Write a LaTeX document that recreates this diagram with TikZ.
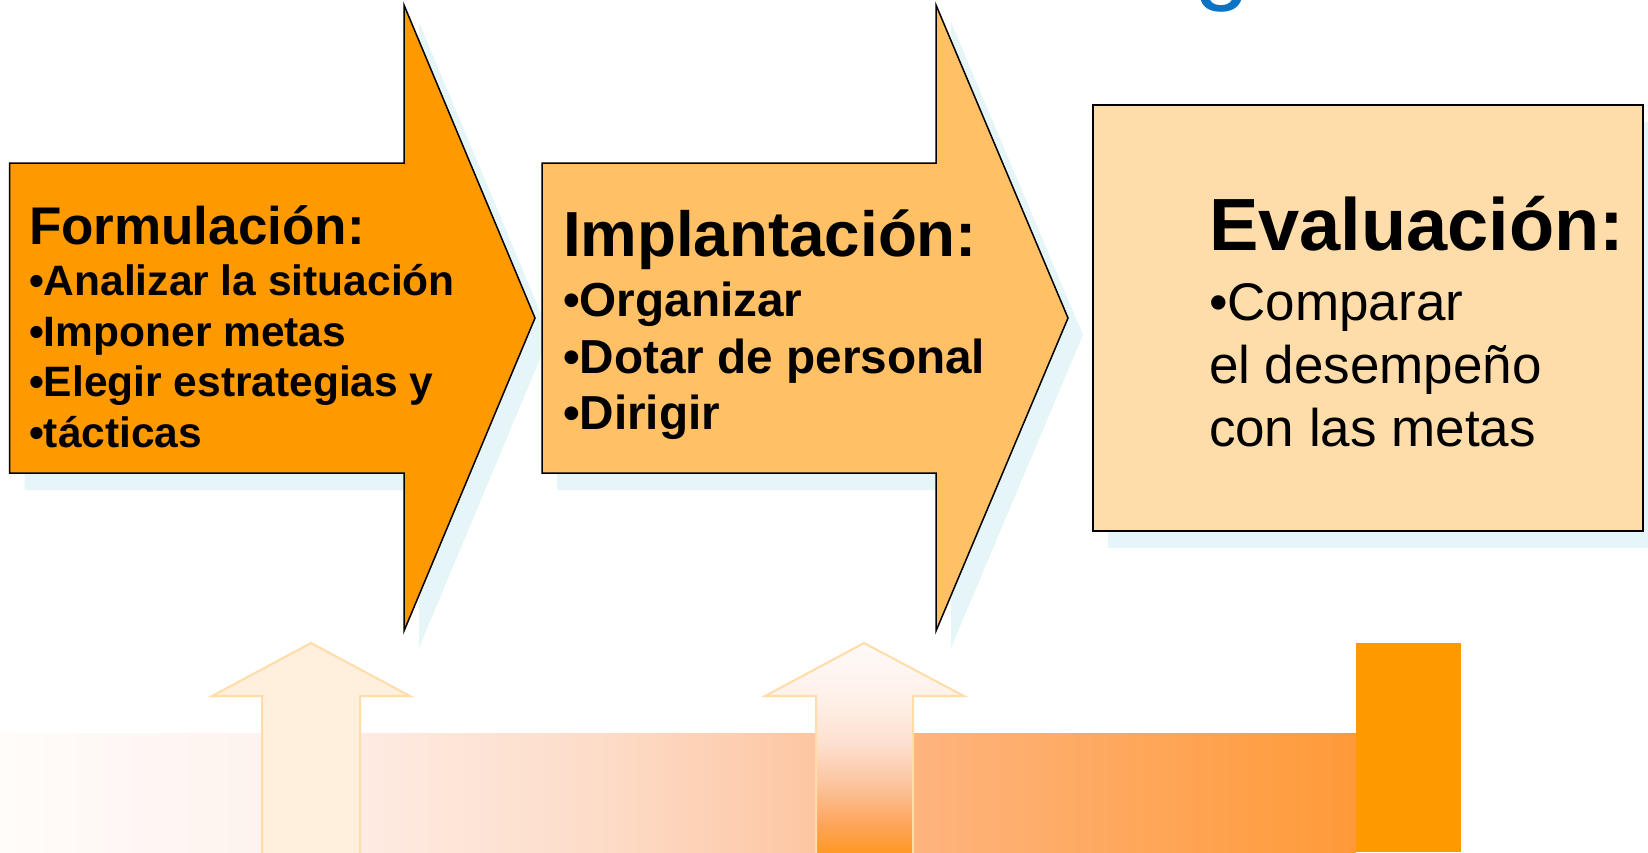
\documentclass[tikz,border=0pt]{standalone}
\usepackage{fontspec}
\setmainfont{Liberation Sans}
\definecolor{shadowc}{HTML}{E6F5F8}
\definecolor{arrA}{HTML}{FF9900}
\definecolor{arrB}{HTML}{FFC066}
\definecolor{boxC}{HTML}{FFDDAA}
\definecolor{upfill}{HTML}{FFEFDC}
\definecolor{upline}{HTML}{FFDCA8}
\definecolor{barc}{HTML}{FF9900}
\definecolor{titleblue}{HTML}{0B72C4}
\definecolor{b0}{HTML}{FFFCFA}
\definecolor{b1}{HTML}{FEF3EE}
\definecolor{b2}{HTML}{FEEBE2}
\definecolor{b3}{HTML}{FDDCC8}
\definecolor{b4}{HTML}{FDC6A2}
\definecolor{b5}{HTML}{FEB47E}
\definecolor{b6}{HTML}{FF9A38}
\definecolor{v0}{HTML}{FF981E}
\definecolor{v1}{HTML}{FDA55C}
\definecolor{v2}{HTML}{FCC5A0}
\definecolor{v3}{HTML}{FDE0D0}
\definecolor{v4}{HTML}{FEF0E8}
\definecolor{v5}{HTML}{FEFAF7}
\pgfdeclarehorizontalshading{bandshade}{100bp}{color(0bp)=(b0); color(25bp)=(b0); color(34.65bp)=(b1); color(38.25bp)=(b2); color(47.1bp)=(b3); color(55.05bp)=(b4); color(58.65bp)=(b5); color(75bp)=(b6); color(100bp)=(b6)}
\pgfdeclareverticalshading{upshade}{100bp}{color(0bp)=(v0); color(25bp)=(v0); color(32.66bp)=(v1); color(42.2bp)=(v2); color(51.8bp)=(v3); color(61.4bp)=(v4); color(75bp)=(v5); color(100bp)=(v5)}
\tikzset{
  outline/.style={draw=black, line width=1.5pt, line join=miter},
  txt/.style={anchor=base west, inner sep=0pt, outer sep=0pt, text=black},
  hdA/.style={txt, font=\fontsize{53}{60}\selectfont\bfseries},
  itA/.style={txt, font=\fontsize{42.5}{50}\selectfont\bfseries},
  hdB/.style={txt, font=\fontsize{63.7}{70}\selectfont\bfseries},
  itB/.style={txt, font=\fontsize{47.7}{55}\selectfont\bfseries},
  hdC/.style={txt, font=\fontsize{74}{80}\selectfont\bfseries},
  itC/.style={txt, font=\fontsize{53}{60}\selectfont},
  uparrow/.style={draw=upline, line width=2pt, line join=miter},
}
\begin{document}
\begin{tikzpicture}[x=1pt,y=-1pt]
\useasboundingbox (0,0) rectangle (1648,852);
\begin{scope}
\clip (0,0) rectangle (1648,852);
% partial title glyph at the top
\node[anchor=base west, inner sep=0pt, text=titleblue, font=\fontsize{100}{100}\selectfont] (tg) at (1194,-9) {g};
% shadows
\fill[shadowc, shift={(15,17)}] (9.5,163) -- (404,163) -- (404,5) -- (535,318) -- (404,631) -- (404,473) -- (9.5,473) -- cycle;
\fill[shadowc, shift={(15,17)}] (542,163) -- (936,163) -- (936,5) -- (1068,318) -- (936,631) -- (936,473) -- (542,473) -- cycle;
\fill[shadowc, shift={(15,17)}] (1093,105) rectangle (1643,531);
% arrows and box
\path[outline, fill=arrA] (9.5,163) -- (404,163) -- (404,5) -- (535,318) -- (404,631) -- (404,473) -- (9.5,473) -- cycle;
\path[outline, fill=arrB] (542,163) -- (936,163) -- (936,5) -- (1068,318) -- (936,631) -- (936,473) -- (542,473) -- cycle;
\path[outline, fill=boxC] (1093,105) rectangle (1643,531);
% texts
\node[hdA] (fT) at (29,244) {Formulación:};
\node[itA] (f1) at (29,295) {•Analizar la situación};
\node[itA] (f2) at (29,346) {•Imponer metas};
\node[itA] (f3) at (29,396) {•Elegir estrategias y};
\node[itA] (f4) at (29,447) {•tácticas};
\node[hdB] (iT) at (563,256) {Implantación:};
\node[itB] (i1) at (563,316) {•Organizar};
\node[itB] (i2) at (563,373) {•Dotar de personal};
\node[itB] (i3) at (563,429) {•Dirigir};
\node[hdC] (eT) at (1209,250) {Evaluación:};
\node[itC] (e1) at (1209,320) {•Comparar};
\node[itC] (e2) at (1209,383) {el desempeño};
\node[itC] (e3) at (1209,446) {con las metas};
% bottom band and bar
\shade[shading=bandshade] (0,733) rectangle (1356,852);
\fill[barc] (1356,643) rectangle (1461,852);
% upward arrows
\path[uparrow, fill=upfill] (311,643) -- (410,696) -- (360,696) -- (360,856) -- (262,856) -- (262,696) -- (212,696) -- cycle;
\path[uparrow, shading=upshade] (864,643) -- (964,696) -- (913,696) -- (913,856) -- (816,856) -- (816,696) -- (765,696) -- cycle;
\end{scope}
\end{tikzpicture}
\end{document}
